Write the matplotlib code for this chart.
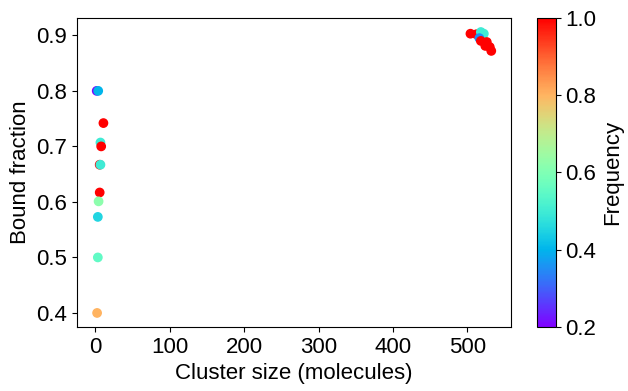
import numpy as np
from matplotlib import pyplot as plt

plt.rcParams['font.family'] = ['Liberation Sans', 'DejaVu Sans']
plt.rcParams['font.size'] = 16

# small clusters near the y axis
small_size = [2, 4, 11, 7, 8, 6, 7, 6, 4.5, 3.5, 3.5, 2.5]
small_bound = [0.8, 0.8, 0.742, 0.707, 0.70, 0.667, 0.667, 0.617, 0.601, 0.573, 0.5, 0.4]
small_freq = [0.2, 0.4, 1.0, 0.5, 1.0, 1.0, 0.5, 1.0, 0.62, 0.45, 0.55, 0.8]

# the big cluster around 500 molecules
big_size = [504, 512, 518, 522, 516, 518, 526, 524, 530, 532]
big_bound = [0.903, 0.902, 0.906, 0.903, 0.895, 0.89, 0.888, 0.881, 0.879, 0.872]
big_freq = [1.0, 1.0, 0.5, 0.5, 0.35, 1.0, 1.0, 1.0, 1.0, 1.0]

size = np.array(small_size + big_size)
bound = np.array(small_bound + big_bound)
freq = np.array(small_freq + big_freq)

fig = plt.figure(figsize=(6.28, 3.91), dpi=100)
ax = fig.add_axes([0.1226, 0.1637, 0.6911, 0.7903])
cax = fig.add_axes([0.855, 0.1637, 0.030, 0.7903])

sc = ax.scatter(size, bound, c=freq, cmap='rainbow', vmin=0.2, vmax=1.0)
ax.set_xlabel('Cluster size (molecules)')
ax.set_ylabel('Bound fraction')
ax.set_xticks([0, 100, 200, 300, 400, 500])
ax.set_yticks([0.4, 0.5, 0.6, 0.7, 0.8, 0.9])

cb = fig.colorbar(sc, cax=cax)
cb.set_label('Frequency')
cb.set_ticks([0.2, 0.4, 0.6, 0.8, 1.0])

fig.savefig('out.png', dpi=100)
